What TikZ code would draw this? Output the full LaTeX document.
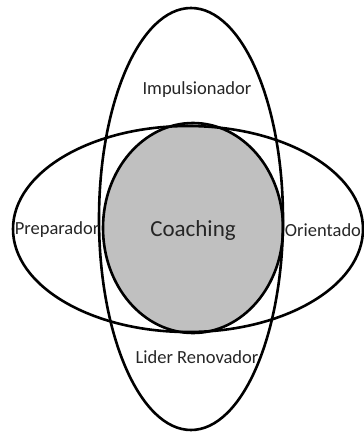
\documentclass[tikz,border=0pt]{standalone}
\usepackage{fontspec}
\setmainfont{Carlito}
\begin{document}
\begin{tikzpicture}[x=1pt,y=-1pt,
  outline/.style={draw=black,line width=2.6pt},
  label/.style={inner sep=0pt,font=\fontsize{18.5}{20}\selectfont,text=black!85},
  biglabel/.style={inner sep=0pt,font=\fontsize{23}{26}\selectfont,text=black!85}]
\useasboundingbox (0,0) rectangle (364,432);
\fill[fill={rgb,255:red,192;green,192;blue,192}] (193,228) ellipse [x radius=90, y radius=105];
\draw[outline] (193,228) ellipse [x radius=90, y radius=105];
\draw[outline] (191,219) ellipse [x radius=92, y radius=211];
\draw[outline] (188,229) ellipse [x radius=175, y radius=103];
\node[label] (imp) at (197,90) {Impulsionador};
\node[label] (prep) at (57,230) {Preparador};
\node[biglabel] (coach) at (193,230) {Coaching};
\node[label] (ori) at (323,230) {Orientado};
\node[label] (lider) at (197,357) {Lider Renovador};
\end{tikzpicture}
\end{document}
